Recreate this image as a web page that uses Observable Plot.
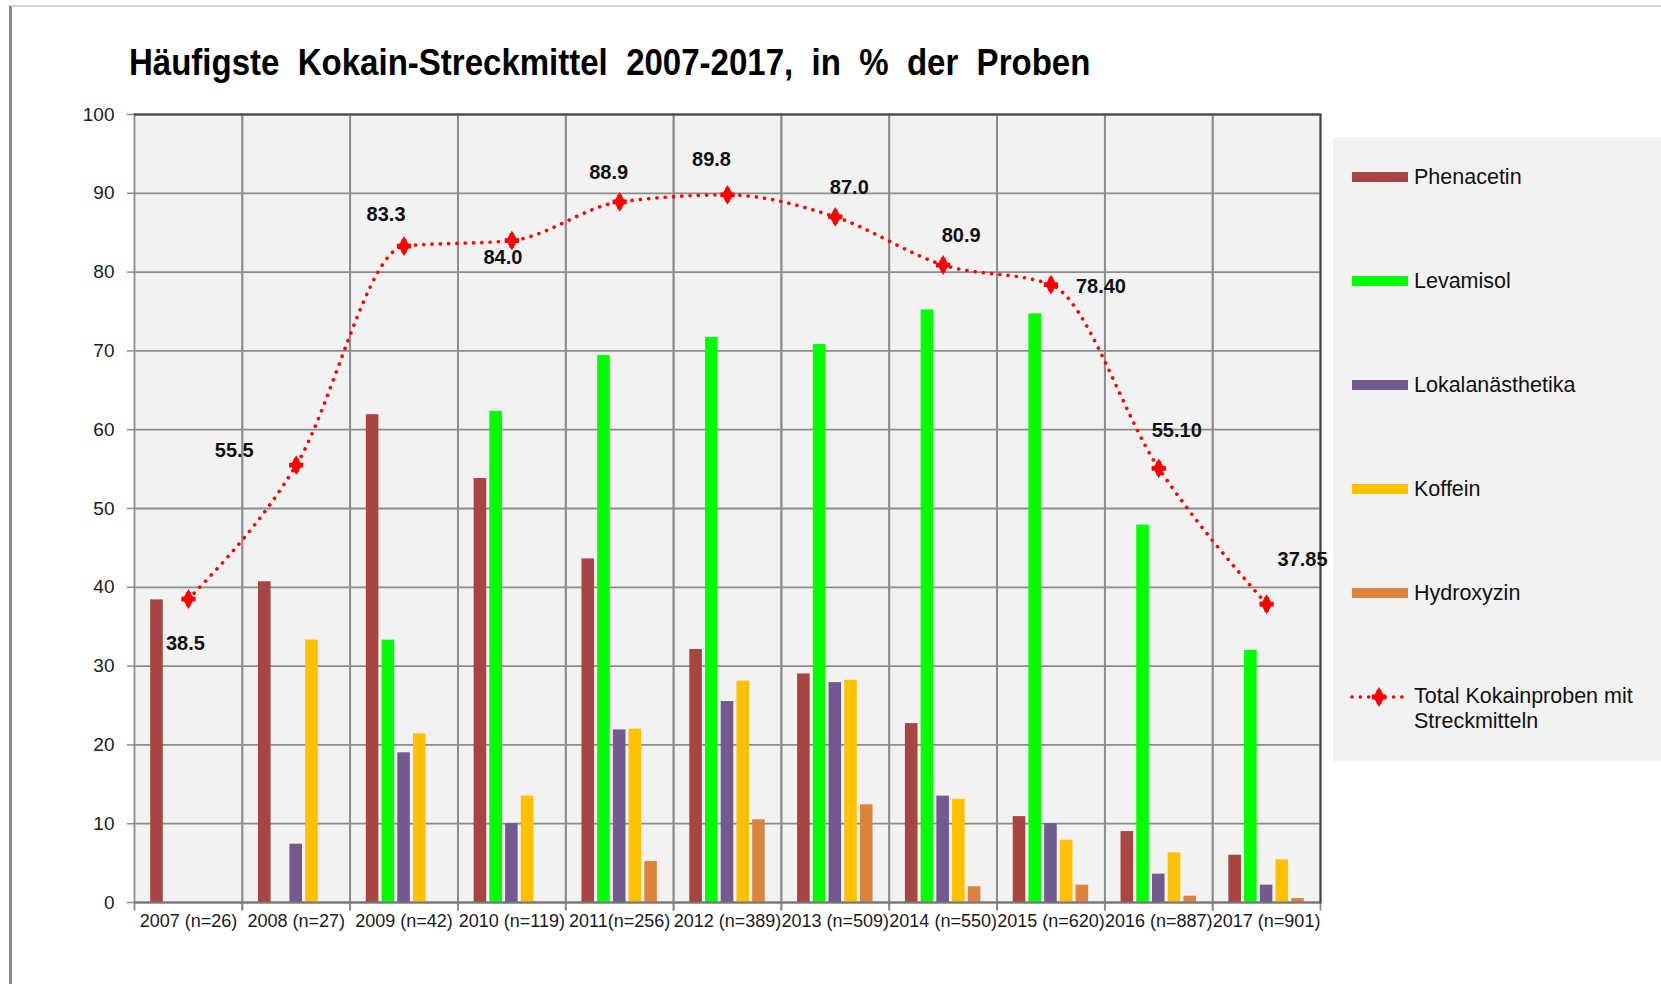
<!DOCTYPE html>
<html>
<head>
<meta charset="utf-8">
<script src="https://cdn.jsdelivr.net/npm/d3@7"></script>
<script src="https://cdn.jsdelivr.net/npm/@observablehq/plot@0.6"></script>
<style>
  html, body { margin: 0; padding: 0; background: #fff; }
  #page { position: relative; width: 1661px; height: 984px; overflow: hidden; font-family: "Liberation Sans", Arial, sans-serif; }
  #border { position: absolute; left: 9px; top: 5px; width: 1700px; height: 1000px; border-top: 2px solid #d4d4d4; border-left: 3px solid #8a8a8a; }
  #title { position: absolute; left: 129px; top: 45px; font-family: "Liberation Sans", Arial, sans-serif; font-weight: bold; font-size: 36px; line-height: 1; white-space: pre; color: #000; transform: scaleX(0.917); transform-origin: 0 0; }
  .layer { position: absolute; left: 0; top: 100px; }
  #legend { position: absolute; left: 1333px; top: 137px; width: 328px; height: 624px; background: #f2f2f2; }
  .item { position: absolute; left: 17px; height: 26px; display: flex; align-items: center; }
  .sw { width: 58px; height: 26px; margin-right: 6px; display: flex; align-items: center; }
  .lab { font-size: 21.5px; line-height: 25px; color: #111; white-space: pre; }
</style>
</head>
<body>
<div id="page">
  <div id="border"></div>
  <div id="title"></div>
  <div id="bars" class="layer"></div>
  <div id="lines" class="layer"></div>
  <div id="legend"></div>
</div>
<script>
// ---- data ----
const titleText = "Häufigste  Kokain-Streckmittel  2007-2017,  in  %  der  Proben";
const categories = ["2007 (n=26)", "2008 (n=27)", "2009 (n=42)", "2010 (n=119)", "2011(n=256)", "2012 (n=389)", "2013 (n=509)", "2014 (n=550)", "2015 (n=620)", "2016 (n=887)", "2017 (n=901)"];
const series = ["Phenacetin", "Levamisol", "Lokalanästhetika", "Koffein", "Hydroxyzin"];
const colors = ["#A84442", "#00FF00", "#72598F", "#FFC000", "#DC843D"];
const phenacetin = [38.4, 40.7, 61.9, 53.8, 43.6, 32.1, 29.0, 22.7, 10.9, 9.0, 6.0];
const levamisol = [null, null, 33.3, 62.3, 69.4, 71.7, 70.8, 75.2, 74.7, 47.9, 32.0];
const lokalanaesthetika = [null, 7.4, 19.0, 10.0, 21.9, 25.5, 27.9, 13.5, 10.0, 3.6, 2.2];
const koffein = [null, 33.3, 21.4, 13.5, 22.0, 28.1, 28.2, 13.1, 7.9, 6.3, 5.4];
const hydroxyzin = [null, null, null, null, 5.2, 10.5, 12.4, 2.0, 2.2, 0.8, 0.5];
const totalLabels = ["38.5", "55.5", "83.3", "84.0", "88.9", "89.8", "87.0", "80.9", "78.40", "55.10", "37.85"];
const totalName = "Total Kokainproben mit\nStreckmitteln";
const yTicks = [0, 10, 20, 30, 40, 50, 60, 70, 80, 90, 100];

// label offsets (px) relative to each marker
const labelOffsets = [[-3, 44], [-62, -15], [-18, -32], [-9, 17], [-11, -29], [-16, -35], [14, -29], [18, -29], [50, 2], [18, -38], [36, -45]];

// ---- build tables ----
const seriesValues = [phenacetin, levamisol, lokalanaesthetika, koffein, hydroxyzin];
const barData = [];
categories.forEach((c, i) => {
  series.forEach((s, j) => {
    const v = seriesValues[j][i];
    if (v != null) barData.push({cat: c, series: s, value: v});
  });
});
const totalData = categories.map((c, i) => ({cat: c, value: +totalLabels[i], label: totalLabels[i]}));

document.getElementById("title").textContent = titleText;

const W = 1340, H = 852;
const margins = {marginLeft: 134, marginRight: 20, marginTop: 14, marginBottom: 50};
const gridColor = "#8c8c8c";
const font = "'Liberation Sans', Arial, sans-serif";

const barPlot = Plot.plot({
  width: W, height: H, ...margins,
  fx: {domain: categories, padding: 0, round: false, label: null, axis: null},
  x: {domain: series, paddingInner: 0.2, paddingOuter: 1.03, round: false, axis: null},
  y: {domain: [0, 100], label: null, axis: null},
  color: {domain: series, range: colors},
  style: {fontFamily: font, background: "transparent", overflow: "visible"},
  marks: [
    Plot.frame({fill: "#f2f2f2"}),
    Plot.ruleY(yTicks, {stroke: gridColor, strokeWidth: 1.8}),
    Plot.frame({anchor: "left", stroke: gridColor, strokeWidth: 1.8, insetBottom: -7}),
    Plot.frame({anchor: "right", stroke: gridColor, strokeWidth: 1.8, insetBottom: -7}),
    Plot.barY(barData, {fx: "cat", x: "series", y: "value", fill: "series"}),
    Plot.axisY({ticks: yTicks, tickSize: 7, tickPadding: 13, fontSize: 19, label: null, stroke: gridColor, fill: "#1a1a1a", strokeWidth: 1.5}),
    Plot.axisFx({anchor: "bottom", tickSize: 0, tickPadding: 12, fontSize: 18, label: null, fill: "#1a1a1a"})
  ]
});
document.getElementById("bars").appendChild(barPlot);

const labelMarks = totalData.map((d, i) => Plot.text([d], {
  x: "cat", y: "value", text: "label", dx: labelOffsets[i][0], dy: labelOffsets[i][1],
  fontSize: 20, fontWeight: "bold", fill: "#111"
}));

const linePlot = Plot.plot({
  width: W, height: H, ...margins,
  x: {type: "band", domain: categories, padding: 0, round: false, axis: null},
  y: {domain: [0, 100], axis: null},
  style: {fontFamily: font, background: "transparent", overflow: "visible"},
  marks: [
    Plot.ruleY([100], {stroke: "#444", strokeWidth: 2}),
    Plot.ruleY([0], {stroke: "#777", strokeWidth: 2}),
    Plot.frame({anchor: "right", stroke: "#444", strokeWidth: 2}),
    Plot.line(totalData, {x: "cat", y: "value", curve: "monotone-x", stroke: "#ff0000", strokeWidth: 3.6, strokeDasharray: "0.1 8.2", strokeLinecap: "round"}),
    Plot.dot(totalData, {x: "cat", y: "value", symbol: "diamond", fill: "#ff0000", stroke: null, r: 6}),
    Plot.dot(totalData, {x: "cat", y: "value", symbol: "cross", fill: "#ff0000", stroke: null, r: 6}),
    ...labelMarks
  ]
});
document.getElementById("lines").appendChild(linePlot);

// ---- legend ----
const legend = d3.select("#legend");
const rowStep = 104;
series.forEach((s, i) => {
  const it = legend.append("div").attr("class", "item").style("top", (27 + i * rowStep) + "px");
  it.append("div").attr("class", "sw").append("div")
    .style("width", "56px").style("height", "10px").style("margin-left", "2px").style("background", colors[i]);
  it.append("div").attr("class", "lab").text(s);
});
{
  const i = series.length;
  const it = legend.append("div").attr("class", "item").style("top", (27 + i * rowStep) + "px").style("align-items", "flex-start");
  const svg = it.append("div").attr("class", "sw").append("svg").attr("width", 58).attr("height", 26);
  svg.append("line").attr("x1", 2).attr("x2", 56).attr("y1", 13).attr("y2", 13)
    .attr("stroke", "#ff0000").attr("stroke-width", 3.6).attr("stroke-dasharray", "0.1 8.2").attr("stroke-linecap", "round");
  svg.append("path").attr("transform", "translate(29,13)").attr("d", d3.symbol(d3.symbolDiamond, Math.PI * 36)()).attr("fill", "#ff0000");
  svg.append("path").attr("transform", "translate(29,13)").attr("d", d3.symbol(d3.symbolCross, Math.PI * 36)()).attr("fill", "#ff0000");
  it.append("div").attr("class", "lab").text(totalName);
}
</script>
</body>
</html>
